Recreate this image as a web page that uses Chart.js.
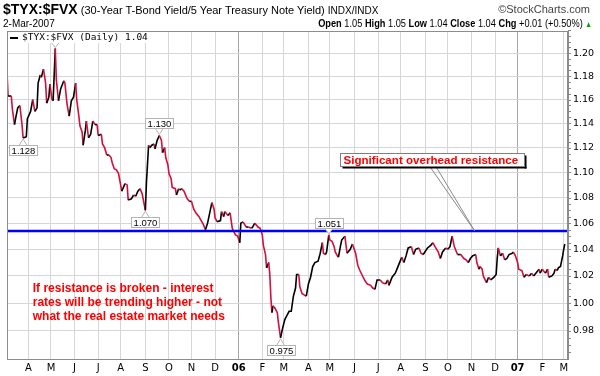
<!DOCTYPE html>
<html>
<head>
<meta charset="utf-8">
<script src="https://cdn.jsdelivr.net/npm/chart.js@4"></script>
<style>
  body { margin: 0; background: #fff; }
  #wrap { position: relative; width: 600px; height: 376px; font-family: "Liberation Sans", Arial, sans-serif; }
  #c { position: absolute; left: 0; top: 0; }
  .h { position: absolute; white-space: nowrap; color: #000; }
</style>
</head>
<body>
<div id="wrap">
  <canvas id="c" width="600" height="376"></canvas>
  <div class="h" style="left:3px;top:1px;font-size:11px"><b style="font-size:14px">$TYX:$FVX</b> (30-Year T-Bond Yield/5 Year Treasury Note Yield) <span style="font-size:10px">INDX/INDX</span></div>
  <div class="h" style="right:10px;top:3px;font-size:11px;color:#444">&copy;StockCharts.com</div>
  <div class="h" style="left:3px;top:18px;font-size:10px">2-Mar-2007</div>
  <div class="h" style="right:8px;top:17px;font-size:11px;transform:scaleX(0.84);transform-origin:right center"><b>Open</b> 1.05 <b>High</b> 1.05 <b>Low</b> 1.04 <b>Close</b> 1.04 <b>Chg</b> +0.01 (+0.50%) <span style="color:#00a000;font-size:8px">&#9650;</span></div>
</div>
<script>
// trading sessions counted (Mon-Fri) from 4 Mar 2005
const startDate = '2005-03-04';

const sessions = [
  0, 1, 4, 5, 7, 8, 10, 12, 14, 15, 18, 19, 21, 22, 24, 26, 28, 29, 31, 32,
  34, 36, 37, 39, 40, 42, 43, 45, 46, 48, 50, 53, 54, 56, 58, 60, 62, 64, 65, 67,
  68, 70, 71, 73, 74, 76, 78, 80, 82, 84, 85, 88, 89, 91, 93, 95, 97, 98, 100, 102,
  104, 107, 110, 112, 113, 116, 118, 120, 122, 124, 126, 129, 130, 132, 133, 135, 137, 138, 140, 142,
  144, 145, 147, 148, 150, 151, 153, 154, 157, 158, 160, 161, 163, 165, 168, 170, 172, 174, 176, 179,
  181, 183, 185, 187, 189, 191, 193, 194, 196, 199, 200, 202, 203, 206, 208, 210, 213, 215, 217, 218,
  220, 223, 225, 228, 229, 231, 234, 236, 238, 239, 241, 242, 244, 245, 246, 247, 248, 250, 252, 253,
  255, 257, 259, 261, 263, 265, 267, 269, 270, 272, 273, 275, 277, 279, 281, 283, 285, 287, 290, 292,
  294, 295, 297, 298, 300, 301, 303, 305, 306, 308, 309, 311, 312, 315, 317, 320, 322, 325, 327, 329,
  332, 334, 336, 339, 341, 343, 345, 348, 350, 353, 355, 356, 359, 362, 364, 367, 368, 370, 372, 374,
  377, 379, 381, 384, 386, 388, 392, 395, 397, 399, 402, 404, 406, 409, 411, 413, 415, 417, 420, 423,
  426, 428, 430, 432, 434, 437, 438, 440, 441, 443, 444, 447, 449, 451, 454, 456, 457, 458, 460, 462,
  464, 466, 468, 471, 472, 474, 476, 477, 480, 482, 484, 487, 489, 491, 493, 496, 497, 499, 502, 504,
  505, 508, 510, 511, 513, 514, 516, 518, 519, 520
];

const ratio = [
  1.183, 1.163, 1.163, 1.152, 1.139, 1.144, 1.153, 1.155, 1.139, 1.128, 1.129, 1.144, 1.148, 1.150, 1.160, 1.150, 1.153, 1.174, 1.181, 1.179,
  1.186, 1.174, 1.157, 1.162, 1.173, 1.160, 1.159, 1.204, 1.177, 1.159, 1.169, 1.176, 1.174, 1.156, 1.146, 1.159, 1.162, 1.174, 1.160, 1.146,
  1.138, 1.133, 1.122, 1.134, 1.142, 1.128, 1.131, 1.142, 1.139, 1.139, 1.130, 1.131, 1.123, 1.120, 1.114, 1.114, 1.112, 1.108, 1.103, 1.102,
  1.099, 1.085, 1.091, 1.090, 1.078, 1.079, 1.082, 1.081, 1.085, 1.087, 1.083, 1.070, 1.092, 1.122, 1.120, 1.122, 1.123, 1.119, 1.126, 1.130,
  1.126, 1.116, 1.120, 1.112, 1.106, 1.099, 1.095, 1.088, 1.087, 1.082, 1.087, 1.086, 1.087, 1.085, 1.079, 1.077, 1.077, 1.071, 1.068, 1.065,
  1.062, 1.059, 1.055, 1.060, 1.068, 1.076, 1.071, 1.064, 1.061, 1.062, 1.069, 1.065, 1.069, 1.066, 1.068, 1.056, 1.051, 1.050, 1.045, 1.060,
  1.061, 1.057, 1.057, 1.056, 1.057, 1.060, 1.057, 1.056, 1.051, 1.043, 1.036, 1.026, 1.030, 1.021, 1.004, 0.993, 0.998, 0.996, 0.993, 0.986,
  0.975, 0.982, 0.988, 0.991, 0.994, 0.994, 1.005, 1.011, 1.021, 1.021, 1.012, 1.007, 1.006, 1.005, 1.014, 1.019, 1.027, 1.030, 1.031, 1.037,
  1.045, 1.037, 1.036, 1.038, 1.051, 1.047, 1.046, 1.042, 1.038, 1.035, 1.034, 1.043, 1.047, 1.050, 1.037, 1.040, 1.044, 1.037, 1.028, 1.024,
  1.019, 1.016, 1.014, 1.013, 1.011, 1.010, 1.017, 1.017, 1.015, 1.014, 1.017, 1.013, 1.019, 1.022, 1.026, 1.032, 1.034, 1.030, 1.035, 1.041,
  1.042, 1.036, 1.040, 1.041, 1.037, 1.036, 1.041, 1.043, 1.045, 1.042, 1.038, 1.033, 1.038, 1.041, 1.040, 1.042, 1.050, 1.042, 1.036, 1.036,
  1.033, 1.032, 1.030, 1.033, 1.035, 1.036, 1.030, 1.025, 1.027, 1.025, 1.020, 1.015, 1.019, 1.017, 1.019, 1.021, 1.033, 1.041, 1.035, 1.037,
  1.032, 1.033, 1.036, 1.037, 1.038, 1.035, 1.030, 1.025, 1.024, 1.019, 1.021, 1.020, 1.022, 1.020, 1.022, 1.025, 1.022, 1.025, 1.022, 1.025,
  1.019, 1.020, 1.022, 1.025, 1.024, 1.026, 1.027, 1.035, 1.040, 1.044
];

const resistance = 1.054;
const lastSession = 523;

const tickDates = [
  '2005-04-01', '2005-05-01', '2005-06-01', '2005-07-01', '2005-08-01', '2005-09-01',
  '2005-10-01', '2005-11-01', '2005-12-01', '2006-01-01', '2006-02-01', '2006-03-01',
  '2006-04-01', '2006-05-01', '2006-06-01', '2006-07-01', '2006-08-01', '2006-09-01',
  '2006-10-01', '2006-11-01', '2006-12-01', '2007-01-01', '2007-02-01', '2007-03-01'
];
const tickLabels = ['A', 'M', 'J', 'J', 'A', 'S', 'O', 'N', 'D', '06', 'F', 'M',
                    'A', 'M', 'J', 'J', 'A', 'S', 'O', 'N', 'D', '07', 'F', 'M'];
const yTicks = [0.98, 1.00, 1.02, 1.04, 1.06, 1.08, 1.10, 1.12, 1.14, 1.16, 1.18, 1.20];

// labelled highs/lows (sessions)
const callouts = [
  { session: 45, above: true },
  { session: 15, above: false },
  { session: 129, above: false },
  { session: 142, above: true },
  { session: 255, above: false },
  { session: 300, above: true }
];

const noteLines = [
  'If resistance is broken - interest',
  'rates will be trending higher - not',
  'what the real estate market needs'
];
const noteAt = { session: 24, value: 1.0103 };
const boxText = 'Significant overhead resistance';
const boxAt = { session: 310.7, value: 1.1153 };
const arrowTip = { session: 436, value: resistance };

function sessionOf(iso) {
  const a = Date.parse(startDate), b = Date.parse(iso);
  let n = 0;
  for (let t = a; t < b; t += 86400000) {
    const d = new Date(t).getUTCDay();
    if (d !== 0 && d !== 6) n++;
  }
  return n;
}
const tickSessions = tickDates.map(sessionOf);
const isYear = i => /^\d+$/.test(tickLabels[i]);

function drawCallout(c, px, py, text, above) {
  c.font = '9.5px "Liberation Sans", Arial, sans-serif';
  const w = Math.round(c.measureText(text).width) + 4, h = 10;
  const bx = Math.round(px - w / 2) + 0.5;
  const by = above ? Math.round(py - 7 - h) + 0.5 : Math.round(py + 7) + 0.5;
  c.strokeStyle = '#b4b4b4';
  c.lineWidth = 1;
  c.fillStyle = '#fff';
  c.beginPath();
  if (above) { c.moveTo(px - 4, by + h); c.lineTo(px, py - 1); c.lineTo(px + 4, by + h); }
  else { c.moveTo(px - 4, by); c.lineTo(px, py + 1); c.lineTo(px + 4, by); }
  c.fill();
  c.stroke();
  c.fillRect(bx, by, w, h);
  c.strokeRect(bx, by, w, h);
  c.fillStyle = '#000';
  c.textAlign = 'center';
  c.textBaseline = 'middle';
  c.fillText(text, bx + w / 2, by + h / 2 + 0.5);
}

const overlay = {
  id: 'overlay',
  afterDatasetsDraw(chart) {
    const c = chart.ctx, x = chart.scales.x, y = chart.scales.y;
    c.save();
    // callout labels
    callouts.forEach(o => {
      const v = ratio[sessions.indexOf(o.session)];
      drawCallout(c, x.getPixelForValue(o.session), y.getPixelForValue(v), v.toFixed(3), o.above);
    });
    // red note
    c.font = 'bold 12px "Liberation Sans", Arial, sans-serif';
    c.fillStyle = '#ff0000';
    c.textAlign = 'left';
    c.textBaseline = 'middle';
    const nx = x.getPixelForValue(noteAt.session), ny = y.getPixelForValue(noteAt.value);
    noteLines.forEach((t, i) => c.fillText(t, nx, ny + i * 14));
    // resistance box + pointer
    const bx = Math.round(x.getPixelForValue(boxAt.session)) + 0.5;
    const by = Math.round(y.getPixelForValue(boxAt.value)) + 0.5;
    const bw = 184, bh = 13;
    const tx = x.getPixelForValue(arrowTip.session), ty = y.getPixelForValue(arrowTip.value);
    c.strokeStyle = '#8a8a8a';
    c.lineWidth = 1;
    c.beginPath();
    c.moveTo(bx + 90, by + bh + 1); c.lineTo(tx, ty);
    c.moveTo(bx + 96, by + bh + 1); c.lineTo(tx, ty);
    c.stroke();
    c.fillStyle = '#000';
    c.fillRect(bx + 2, by + bh, bw, 2);
    c.fillRect(bx + bw, by + 2, 2, bh);
    c.fillStyle = '#fff';
    c.fillRect(bx, by, bw, bh);
    c.strokeStyle = '#808080';
    c.strokeRect(bx, by, bw, bh);
    c.fillStyle = '#ff0000';
    c.font = 'bold 11.6px "Liberation Sans", Arial, sans-serif';
    c.fillText(boxText, bx + 3, by + bh / 2 + 0.5);
    c.restore();
  },
  afterDraw(chart) {
    const c = chart.ctx, y = chart.scales.y, a = chart.chartArea;
    c.save();
    // minor ticks on the price axis
    c.strokeStyle = '#888';
    c.lineWidth = 1;
    c.beginPath();
    for (let v = 0.965; v < 1.22; v += 0.005) {
      const py = Math.round(y.getPixelForValue(v)) + 0.5;
      c.moveTo(a.right, py); c.lineTo(a.right + 3, py);
    }
    c.stroke();
    // legend
    c.fillStyle = '#fff';
    c.fillRect(a.left + 1, a.top + 1, 145, 11);
    c.fillStyle = '#000';
    c.fillRect(a.left + 3, a.top + 6, 8, 2);
    c.font = '9.5px "DejaVu Sans Mono", monospace';
    c.textAlign = 'left';
    c.textBaseline = 'middle';
    c.fillText('$TYX:$FVX (Daily) 1.04', a.left + 15, a.top + 7);
    // frame
    c.strokeStyle = '#8c8c8c';
    c.strokeRect(a.left + 0.5, a.top + 0.5, a.right - a.left - 1, a.bottom - a.top);
    c.restore();
  }
};

new Chart(document.getElementById('c'), {
  type: 'line',
  data: {
    datasets: [
      {
        label: 'Resistance',
        data: [{ x: 0, y: resistance }, { x: lastSession, y: resistance }],
        borderColor: '#0000ff',
        borderWidth: 2.5,
        pointRadius: 0,
        order: 0
      },
      {
        label: '$TYX:$FVX',
        data: sessions.map((s, i) => ({ x: s, y: ratio[i] })),
        borderWidth: 1.6,
        pointRadius: 0,
        tension: 0,
        order: 1,
        segment: {
          borderColor: ctx => ctx.p1.parsed.y >= ctx.p0.parsed.y ? '#000000' : '#d40f3c'
        }
      }
    ]
  },
  options: {
    responsive: false,
    animation: false,
    devicePixelRatio: 1,
    layout: { padding: { left: 7, top: 31, right: 0, bottom: 0 } },
    plugins: { legend: { display: false }, tooltip: { enabled: false } },
    scales: {
      x: {
        type: 'linear',
        min: 0,
        max: lastSession,
        afterBuildTicks: axis => { axis.ticks = tickSessions.map(v => ({ value: v })); },
        afterFit: axis => { axis.height = 17; },
        grid: {
          drawTicks: false,
          color: ctx => (ctx.index !== undefined && isYear(ctx.index)) ? '#a8a8a8' : '#d6d6d6'
        },
        border: { display: true, color: '#8c8c8c' },
        ticks: {
          autoSkip: false,
          maxRotation: 0,
          minRotation: 0,
          padding: 3,
          color: '#000',
          font: ctx => ({ family: 'DejaVu Sans', size: 10, weight: isYear(ctx.index) ? 'bold' : 'normal' }),
          callback: (v, i) => tickLabels[i]
        }
      },
      y: {
        type: 'logarithmic',
        position: 'right',
        min: 0.962,
        max: 1.2195,
        afterBuildTicks: axis => { axis.ticks = yTicks.map(v => ({ value: v })); },
        afterFit: axis => { axis.width = 32; },
        grid: { drawTicks: false, color: '#d6d6d6' },
        border: { display: true, color: '#8c8c8c' },
        ticks: {
          padding: 5,
          color: '#000',
          font: { family: 'DejaVu Sans', size: 9.5 },
          callback: v => Number(v).toFixed(2)
        }
      }
    }
  },
  plugins: [overlay]
});
</script>
</body>
</html>
